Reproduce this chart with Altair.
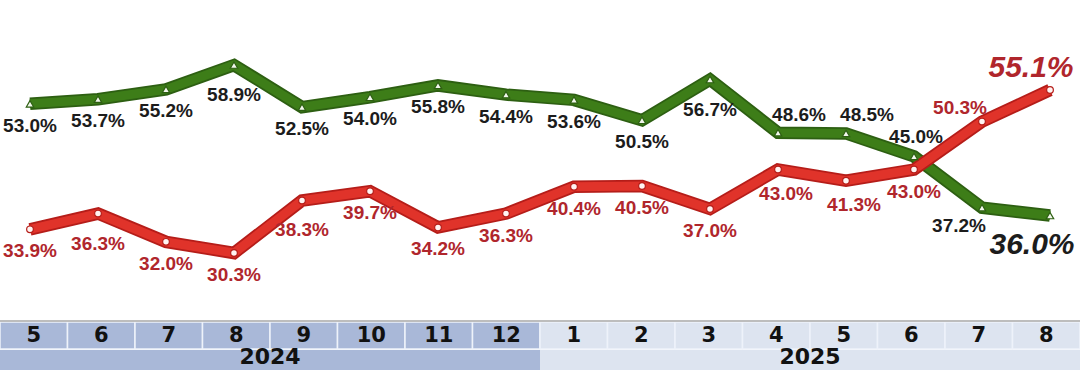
import altair as alt
import pandas as pd

# ---- data ----
months = ["5", "6", "7", "8", "9", "10", "11", "12", "1", "2", "3", "4", "5", "6", "7", "8"]
years = ["2024"] * 8 + ["2025"] * 8
green = [53.0, 53.7, 55.2, 58.9, 52.5, 54.0, 55.8, 54.4, 53.6, 50.5, 56.7, 48.6, 48.5, 45.0, 37.2, 36.0]
red = [33.9, 36.3, 32.0, 30.3, 38.3, 39.7, 34.2, 36.3, 40.4, 40.5, 37.0, 43.0, 41.3, 43.0, 50.3, 55.1]
green_place = ["below", "below", "below", "below_far", "below", "below", "below", "below", "below",
               "below", "below_far", "above_right", "above_right", "above", "below_left", "big_below_left"]
red_place = ["below", "below_far", "below", "below", "below_far", "below", "below", "below", "below",
             "below", "below", "below_right", "below_right", "below", "above_left", "big_above_left"]
year_list = ["2024", "2025"]

keys = [f"{y}-{m}" for y, m in zip(years, months)]

rows = []
for i, k in enumerate(keys):
    rows.append(dict(key=k, idx=i, month=months[i], year=years[i], series="green", value=green[i],
                     label=f"{green[i]:.1f}%", place=green_place[i]))
    rows.append(dict(key=k, idx=i, month=months[i], year=years[i], series="red", value=red[i],
                     label=f"{red[i]:.1f}%", place=red_place[i]))
df = pd.DataFrame(rows)
cells = pd.DataFrame(dict(key=keys, month=months, year=years))
yr = pd.DataFrame(dict(year=year_list))

W, H = 1080, 370
GREEN_DARK, GREEN = "#2d5f12", "#3d7d18"
RED_DARK, RED = "#b51d19", "#e0332a"
LBL_GREEN, LBL_RED = "#1c1c1c", "#b0262c"
BAND = {"2024": "#a9b8d8", "2025": "#dde4f0"}

xs = alt.X("key:N", sort=keys, axis=None,
           scale=alt.Scale(type="point", domain=keys, range=[30, 1050], padding=0))
ys = alt.Y("value:Q", axis=alt.Axis(values=[30, 40, 50, 60], grid=True, gridDash=[3, 3],
                                    gridColor="#cfcfcf", gridWidth=1, labels=False, ticks=False,
                                    domain=False, title=None),
           scale=alt.Scale(domain=[12.5, 68.8], nice=False, zero=False))
yv = alt.Y("value:Q", axis=None)
xb = alt.X("key:N", sort=keys, axis=None,
           scale=alt.Scale(type="band", domain=keys, paddingInner=0, paddingOuter=0))
xy = alt.X("year:N", axis=None,
           scale=alt.Scale(type="band", domain=year_list, paddingInner=0, paddingOuter=0))
band_color = alt.Color("year:N", scale=alt.Scale(domain=year_list, range=[BAND[y] for y in year_list]),
                       legend=None)

base = alt.Chart(df)
layers = []

# grid carrier (invisible points)
layers.append(base.mark_point(opacity=0).encode(x=xs, y=ys))

# lines with darker outline
for s, dark, light in [("green", GREEN_DARK, GREEN), ("red", RED_DARK, RED)]:
    sub = base.transform_filter(alt.datum.series == s)
    layers.append(sub.mark_line(color=dark, strokeWidth=12.5, strokeJoin="miter").encode(
        x=xs, y=yv, order=alt.Order("idx:Q")))
    layers.append(sub.mark_line(color=light, strokeWidth=9, strokeJoin="miter").encode(
        x=xs, y=yv, order=alt.Order("idx:Q")))

# markers
layers.append(base.transform_filter(alt.datum.series == "green").mark_point(
    shape="triangle-up", filled=True, fill="#f2f7ec", stroke=GREEN_DARK, strokeWidth=1.2, size=55,
    opacity=1).encode(x=xs, y=yv))
layers.append(base.transform_filter(alt.datum.series == "red").mark_point(
    shape="circle", filled=True, fill="#fff4f2", stroke=RED_DARK, strokeWidth=1.2, size=45,
    opacity=1).encode(x=xs, y=yv))

# labels
PLACE = {
    "below": dict(dx=0, dy=22),
    "below_far": dict(dx=0, dy=30),
    "below_right": dict(dx=8, dy=24),
    "above_right": dict(dx=21, dy=-18),
    "above": dict(dx=2, dy=-19),
    "below_left": dict(dx=-23, dy=18),
    "above_left": dict(dx=-22, dy=-14),
    "big_below_left": dict(dx=-18, dy=29, fontSize=30, fontStyle="italic"),
    "big_above_left": dict(dx=-19, dy=-22, fontSize=30, fontStyle="italic"),
}
for s, col in [("green", LBL_GREEN), ("red", LBL_RED)]:
    for p, opts in PLACE.items():
        o = dict(fontSize=19, fontStyle="normal")
        o.update(opts)
        sub = base.transform_filter((alt.datum.series == s) & (alt.datum.place == p))
        layers.append(sub.mark_text(font="Liberation Sans", fontWeight="bold", color=col,
                                    align="center", baseline="middle", **o).encode(
            x=xs, y=yv, text="label:N"))

# bottom band: month row
cb = alt.Chart(cells)
layers.append(cb.mark_rect(stroke="#eef2fa", strokeWidth=1.5).encode(
    x=xb, y=alt.value(322), y2=alt.value(349), color=band_color))
layers.append(cb.mark_text(font="DejaVu Sans", fontWeight="bold", fontSize=21, color="#111111",
                           baseline="middle", align="center").encode(
    x=xb, y=alt.value(336), text="month:N"))
# year row
cy = alt.Chart(yr)
layers.append(cy.mark_rect().encode(x=xy, y=alt.value(350), y2=alt.value(H + 2),
                                    color=alt.Color("year:N", scale=alt.Scale(domain=year_list, range=[BAND[y] for y in year_list]), legend=None)))
layers.append(cy.mark_text(font="DejaVu Sans", fontWeight="bold", fontSize=22, color="#111111",
                           baseline="bottom", align="center").encode(
    x=xy, y=alt.value(369), text="year:N"))
# band top line
layers.append(cy.mark_rule(color="#bdbdbd", strokeWidth=2).encode(
    x=alt.value(0), x2=alt.value(W), y=alt.value(321)))

chart = alt.layer(*layers).resolve_scale(x="independent", color="independent").properties(
    width=W, height=H, autosize=alt.AutoSizeParams(type="none"), padding=0,
    background="white",
).configure_view(stroke=None)

chart.save("out.html", embed_options={"renderer": "svg", "actions": False})
